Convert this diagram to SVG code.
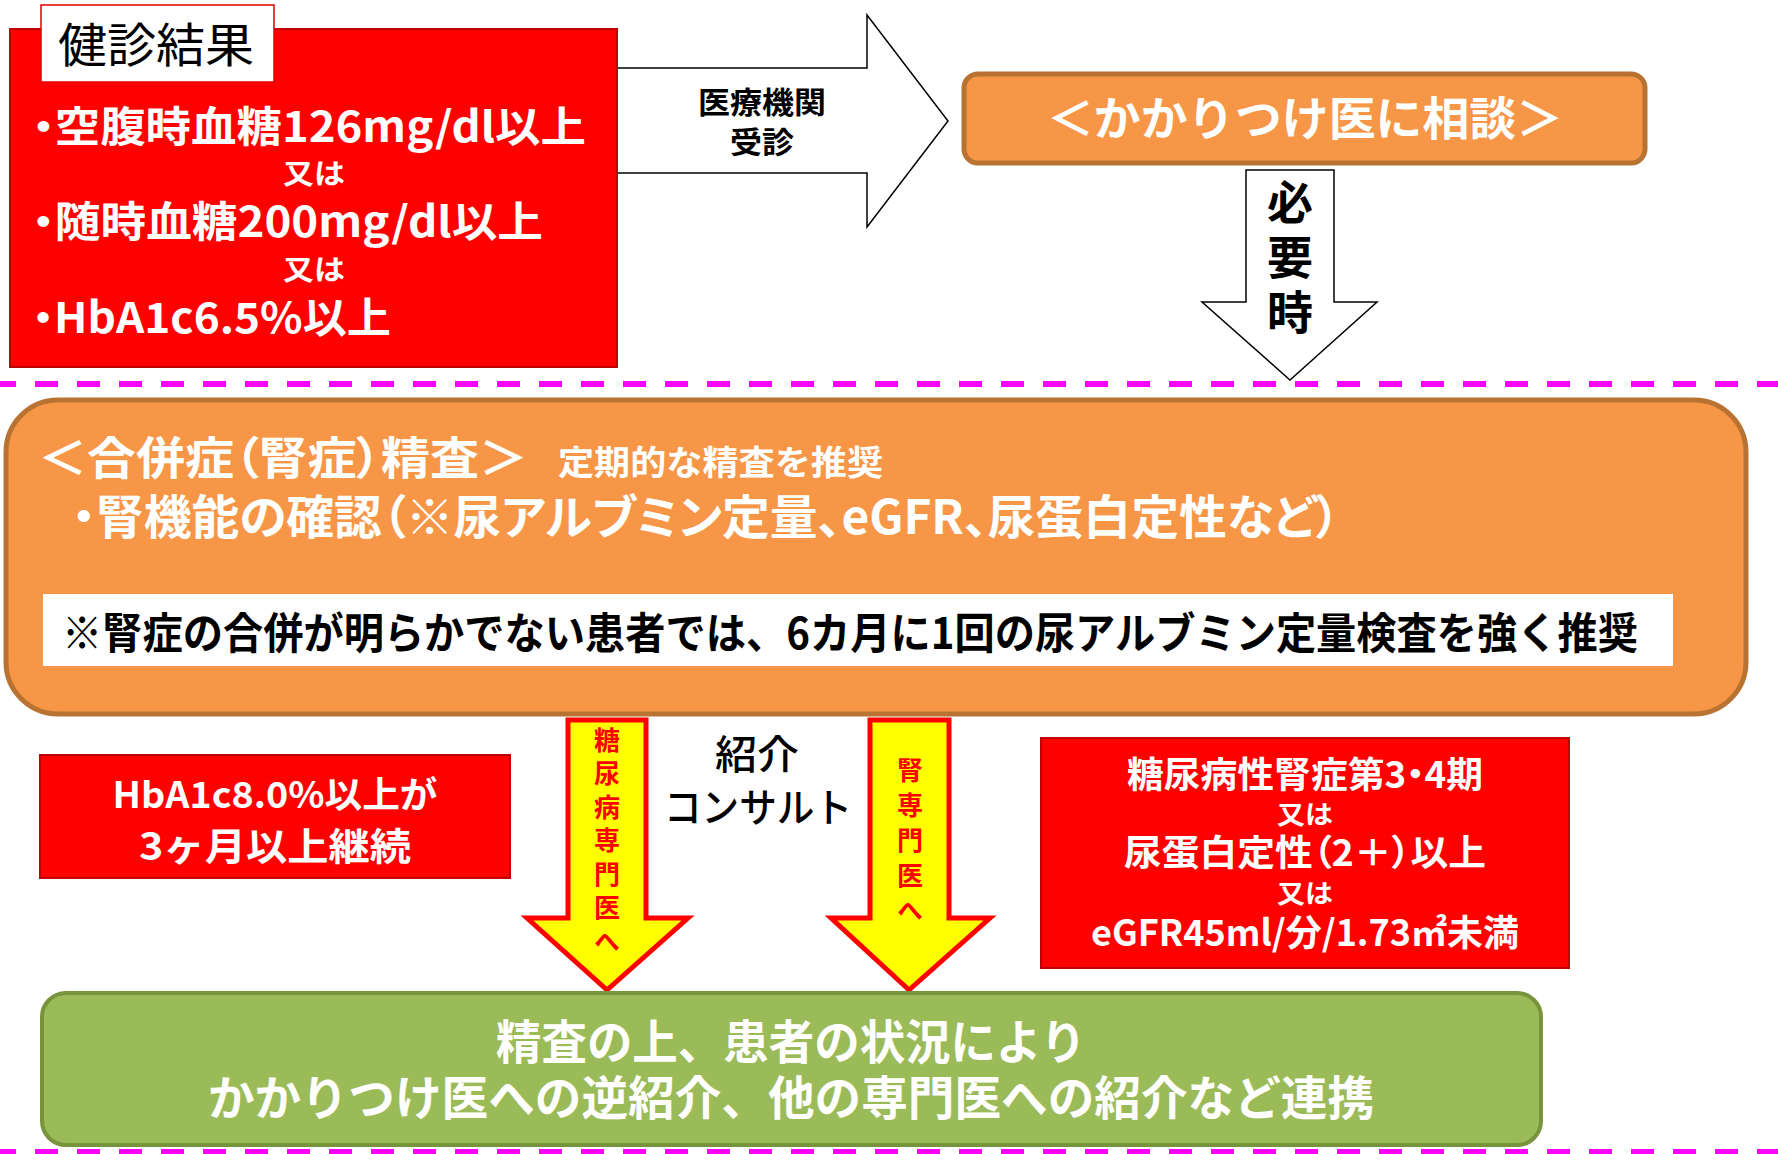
<svg xmlns="http://www.w3.org/2000/svg" width="1778" height="1154" viewBox="0 0 1778 1154">
<style>
text{font-family:"Noto Sans CJK JP","Noto Sans",sans-serif;font-weight:700}
.p{font-feature-settings:"palt"}
.w{fill:#FFFFFF}
.k{fill:#000000}
.r{fill:#FF0000}
.c{text-anchor:middle}
.v{writing-mode:vertical-rl}
.dash{stroke:#FF00FF;stroke-width:6;stroke-dasharray:23 19;stroke-dashoffset:7;fill:none}
.redbox{fill:#FF0000;stroke:#C00000;stroke-width:2}
.orange{fill:#F79646;stroke:#B87333;stroke-width:5}
.yarrow{fill:#FFFF00;stroke:#FF0000;stroke-width:5;stroke-linejoin:miter}
.warrow{fill:#FFFFFF;stroke:#000000;stroke-width:1.5}
</style>
<rect width="1778" height="1154" fill="#FFFFFF"/>
<g id="separators">
<line class="dash" x1="0" y1="384" x2="1778" y2="384"/>
<line class="dash" x1="0" y1="1152" x2="1778" y2="1152"/>
</g>
<g id="connectors">
<polygon class="warrow" points="610,68 867,68 867,15 948,121 867,227 867,173 610,173"/>
<text class="k c" x="762" y="113" font-size="30" textLength="128" lengthAdjust="spacingAndGlyphs">医療機関</text>
<text class="k c" x="762" y="153" font-size="30" textLength="64" lengthAdjust="spacingAndGlyphs">受診</text>
<polygon class="warrow" points="1246,170 1334,170 1334,302 1377,302 1290,380 1202,302 1246,302"/>
<text class="k v" x="1290" y="179" font-size="46" letter-spacing="9">必要時</text>
<polygon class="yarrow" points="568,720 646,720 646,918 688,918 607,990 527,918 568,918"/>
<text class="r v" x="607" y="727" font-size="26" letter-spacing="7.5">糖尿病専門医へ</text>
<polygon class="yarrow" points="870,720 949,720 949,918 990,918 909,990 831,918 870,918"/>
<text class="r v" x="910" y="757" font-size="26" letter-spacing="9">腎専門医へ</text>
<text class="k c" x="757" y="769" font-size="40" style="font-weight:500" textLength="84" lengthAdjust="spacingAndGlyphs">紹介</text>
<text class="k c" x="758" y="822" font-size="40" style="font-weight:500" textLength="188" lengthAdjust="spacingAndGlyphs">コンサルト</text>
</g>
<g id="node-kenshin">
<rect class="redbox" x="10" y="29" width="607" height="338" stroke-width="3"/>
<rect x="41" y="5" width="233" height="77" fill="#FFFFFF" stroke="#E00000" stroke-width="1.5"/>
<text class="k" x="58" y="62" font-size="47" style="font-weight:400" textLength="196" lengthAdjust="spacingAndGlyphs">健診結果</text>
<text class="w p" x="32" y="142" font-size="42" textLength="554" lengthAdjust="spacingAndGlyphs">・空腹時血糖126mg/dl以上</text>
<text class="w c" x="314" y="184" font-size="28" textLength="62" lengthAdjust="spacingAndGlyphs">又は</text>
<text class="w p" x="32" y="237" font-size="42" textLength="511" lengthAdjust="spacingAndGlyphs">・随時血糖200mg/dl以上</text>
<text class="w c" x="314" y="280" font-size="28" textLength="62" lengthAdjust="spacingAndGlyphs">又は</text>
<text class="w p" x="32" y="333" font-size="42" textLength="359" lengthAdjust="spacingAndGlyphs">・HbA1c6.5%以上</text>
</g>
<g id="node-kakaritsuke">
<rect class="orange" x="964" y="74" width="681" height="89" rx="14"/>
<text class="w c" x="1305" y="135" font-size="46" textLength="516" lengthAdjust="spacingAndGlyphs">＜かかりつけ医に相談＞</text>
</g>
<g id="node-seisa">
<rect class="orange" x="6" y="400" width="1740" height="314" rx="52"/>
<text class="w p" x="38" y="475" font-size="45" textLength="490" lengthAdjust="spacingAndGlyphs">＜合併症（腎症）精査＞</text>
<text class="w" x="558" y="475" font-size="34" textLength="325" lengthAdjust="spacingAndGlyphs">定期的な精査を推奨</text>
<text class="w p" x="72" y="534" font-size="47" textLength="1268" lengthAdjust="spacingAndGlyphs">・腎機能の確認（※尿アルブミン定量、eGFR、尿蛋白定性など）</text>
<rect x="43" y="594" width="1630" height="72" fill="#FFFFFF"/>
<text class="k" x="62" y="649" font-size="43" textLength="1576" lengthAdjust="spacingAndGlyphs">※腎症の合併が明らかでない患者では、6カ月に1回の尿アルブミン定量検査を強く推奨</text>
</g>
<g id="node-hba1c">
<rect class="redbox" x="40" y="755" width="470" height="123"/>
<text class="w c" x="275" y="808" font-size="36" textLength="325" lengthAdjust="spacingAndGlyphs">HbA1c8.0%以上が</text>
<text class="w c" x="275" y="860" font-size="38" textLength="272" lengthAdjust="spacingAndGlyphs">3ヶ月以上継続</text>
</g>
<g id="node-jinsho">
<rect class="redbox" x="1041" y="738" width="528" height="230"/>
<text class="w c p" x="1305" y="788" font-size="36" textLength="356" lengthAdjust="spacingAndGlyphs">糖尿病性腎症第3・4期</text>
<text class="w c" x="1305" y="824" font-size="26" textLength="56" lengthAdjust="spacingAndGlyphs">又は</text>
<text class="w c p" x="1305" y="866" font-size="36" textLength="362" lengthAdjust="spacingAndGlyphs">尿蛋白定性（2＋）以上</text>
<text class="w c" x="1305" y="903" font-size="26" textLength="56" lengthAdjust="spacingAndGlyphs">又は</text>
<text class="w c" x="1305" y="946" font-size="36" textLength="428" lengthAdjust="spacingAndGlyphs">eGFR45ml/分/1.73㎡未満</text>
</g>
<g id="node-renkei">
<rect x="42" y="993" width="1499" height="152" rx="24" fill="#9BBB59" stroke="#77933C" stroke-width="4"/>
<text class="w" x="496" y="1059" font-size="47" textLength="590" lengthAdjust="spacingAndGlyphs">精査の上、患者の状況により</text>
<text class="w" x="208" y="1115" font-size="47" textLength="1166" lengthAdjust="spacingAndGlyphs">かかりつけ医への逆紹介、他の専門医への紹介など連携</text>
</g>
</svg>
